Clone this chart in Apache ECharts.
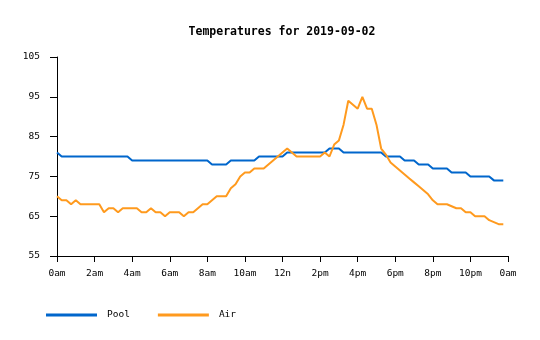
<!DOCTYPE html>
<html>
<head>
<meta charset="utf-8">
<script src="https://cdn.jsdelivr.net/npm/echarts@6/dist/echarts.min.js"></script>
<style>html,body{margin:0;padding:0;background:#fff;}#c{width:540px;height:340px;}</style>
</head>
<body>
<div id="c"></div>
<script>
// Samples every 15 minutes starting 0am
const sampleStepHours = 0.25;
const pool = [81,
  80,80,80,80,80,80,80,80,80,80,80,80,80,80,80,
  79,79,79,79,79,79,79,79,79,79,79,79,79,79,79,79,79,
  78,78,78,78,
  79,79,79,79,79,79,
  80,80,80,80,80,80,
  81,81,81,81,81,81,81,81,81,
  82,82,82,
  81,81,81,81,81,81,81,81,81,
  80,80,80,80,
  79,79,79,
  78,78,78,
  77,77,77,77,
  76,76,76,76,
  75,75,75,75,75,
  74,74,74];
const air = [70,69,69,68, 69,68,68,68, 68,68,66,67, 67,66,67,67,
  67,67,66,66, 67,66,66,65, 66,66,66,65, 66,66,67,68,
  68,69,70,70, 70,72,73,75, 76,76,77,77, 77,78,79,80,
  81,82,81,80, 80,80,80,80, 80,81,80,83, 84,88,94,93,
  92,95,92,92, 88,82,80.5,78.5, 77.5,76.5,75.5,74.5, 73.5,72.5,71.5,70.5,
  69,68,68,68, 67.5,67,67,66, 66,65,65,65, 64,63.5,63,63];
const xTickLabels = ['0am','2am','4am','6am','8am','10am','12n','2pm','4pm','6pm','8pm','10pm','0am'];
const yTicks = [55,65,75,85,95,105];
const titleText = 'Temperatures for 2019-09-02';
const seriesNames = ['Pool','Air'];

const font = 'DejaVu Sans Mono';
const toPairs = arr => arr.map((v, i) => [i * sampleStepHours, v]);

const chart = echarts.init(document.getElementById('c'), null, {renderer: 'canvas'});
chart.setOption({
  animation: false,
  backgroundColor: '#fff',
  title: {
    text: titleText,
    left: 282, top: 26, padding: 0, textAlign: 'center',
    textStyle: {fontFamily: font, fontWeight: 'bold', fontSize: 11.5, color: '#000'}
  },
  legend: {
    left: 46, top: 310, padding: 0,
    itemWidth: 51, itemHeight: 3, itemGap: 28,
    icon: 'rect',
    textStyle: {fontFamily: font, fontSize: 9.5, color: '#000', padding: [0,0,0,5]},
    data: seriesNames
  },
  grid: {left: 57, right: 32, top: 57, bottom: 84, containLabel: false, outerBoundsMode: 'none'},
  xAxis: {
    type: 'value', min: 0, max: 24, interval: 2,
    axisLine: {show: true, lineStyle: {color: '#000', width: 1}},
    axisTick: {show: true, length: 6, lineStyle: {color: '#000'}},
    splitLine: {show: false},
    axisLabel: {
      fontFamily: font, fontSize: 9.5, color: '#000', margin: 13,
      formatter: v => xTickLabels[Math.round(v / 2)]
    }
  },
  yAxis: {
    type: 'value', min: yTicks[0], max: yTicks[yTicks.length - 1], interval: 10,
    axisLine: {show: true, lineStyle: {color: '#000', width: 1}},
    axisTick: {show: true, length: 7, lineStyle: {color: '#000'}},
    splitLine: {show: false},
    axisLabel: {fontFamily: font, fontSize: 9.5, color: '#000', margin: 17}
  },
  series: [
    {name: seriesNames[0], type: 'line', data: toPairs(pool), showSymbol: false, symbol: 'none',
     lineStyle: {width: 2, color: '#0066cc'}, itemStyle: {color: '#0066cc'}},
    {name: seriesNames[1], type: 'line', data: toPairs(air), showSymbol: false, symbol: 'none',
     lineStyle: {width: 2, color: '#ff9a1e'}, itemStyle: {color: '#ff9a1e'}}
  ]
});
</script>
</body>
</html>
